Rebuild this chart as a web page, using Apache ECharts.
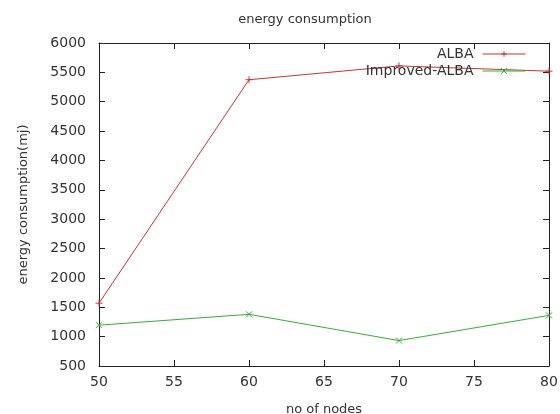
<!DOCTYPE html>
<html><head><meta charset="utf-8">
<script src="https://cdn.jsdelivr.net/npm/echarts@6/dist/echarts.min.js"></script>
<style>html,body{margin:0;padding:0;background:#fff}#c{width:560px;height:414px}</style>
</head><body><div id="c"></div>
<script>
const nodes = [50, 60, 70, 80];
const alba = [1570, 5375, 5610, 5520];
const improvedAlba = [1195, 1380, 933, 1362];
const seriesNames = ['ALBA', 'Improved-ALBA'];
const titleText = 'energy consumption';
const xName = 'no of nodes';
const yName = 'energy consumption(mj)';

const font = 'DejaVu Sans';
const txt = '#333';
const plus = 'path://M0,5L10,5M5,0L5,10';
const cross = 'path://M0,0L10,10M10,0L0,10';
const frame = {show: true, onZero: false, lineStyle: {color: '#222', width: 1}};
const tick = {show: true, inside: true, length: 6, lineStyle: {color: '#222'}};
const plain = v => String(v);

const chart = echarts.init(document.getElementById('c'), null, {renderer: 'canvas'});
chart.setOption({
  animation: false,
  backgroundColor: '#fff',
  title: {text: titleText, left: 300, top: 8, textAlign: 'center',
    textStyle: {fontFamily: font, fontSize: 13, fontWeight: 'normal', color: txt}},
  grid: {left: 99, right: 11, top: 43, bottom: 48, containLabel: false, outerBoundsMode: 'none'},
  legend: {
    orient: 'vertical', right: 29, top: 42, align: 'right', itemGap: 3,
    itemWidth: 43, itemHeight: 7,
    lineStyle: {width: 1},
    itemStyle: {borderWidth: 1},
    textStyle: {fontFamily: font, fontSize: 14, color: txt, padding: [0, 4, 0, 0]},
    data: seriesNames
  },
  xAxis: [
    {type: 'value', min: 50, max: 80, interval: 5, position: 'bottom',
     name: xName, nameLocation: 'middle', nameGap: 37,
     nameTextStyle: {fontFamily: font, fontSize: 13, color: txt},
     axisLine: frame, axisTick: tick, splitLine: {show: false},
     axisLabel: {fontFamily: font, fontSize: 14, color: txt, margin: 9, formatter: plain}},
    {type: 'value', min: 50, max: 80, interval: 5, position: 'top',
     axisLine: frame, axisTick: tick, splitLine: {show: false}, axisLabel: {show: false}}
  ],
  yAxis: [
    {type: 'value', min: 500, max: 6000, interval: 500, position: 'left',
     name: yName, nameLocation: 'middle', nameGap: 69, nameRotate: 90,
     nameTextStyle: {fontFamily: font, fontSize: 13, color: txt},
     axisLine: frame, axisTick: tick, splitLine: {show: false},
     axisLabel: {fontFamily: font, fontSize: 14, color: txt, margin: 13, formatter: plain}},
    {type: 'value', min: 500, max: 6000, interval: 500, position: 'right',
     axisLine: frame, axisTick: tick, splitLine: {show: false}, axisLabel: {show: false}}
  ],
  series: [
    {name: seriesNames[0], type: 'line', data: nodes.map((x, i) => [x, alba[i]]),
     symbol: plus, symbolSize: 7, showAllSymbol: true,
     lineStyle: {color: '#cc3333', width: 1},
     itemStyle: {color: 'rgba(0,0,0,0)', borderColor: '#cc3333', borderWidth: 1}},
    {name: seriesNames[1], type: 'line', data: nodes.map((x, i) => [x, improvedAlba[i]]),
     symbol: cross, symbolSize: 6, showAllSymbol: true,
     lineStyle: {color: '#33b033', width: 1},
     itemStyle: {color: 'rgba(0,0,0,0)', borderColor: '#33b033', borderWidth: 1}}
  ]
});
</script></body></html>
